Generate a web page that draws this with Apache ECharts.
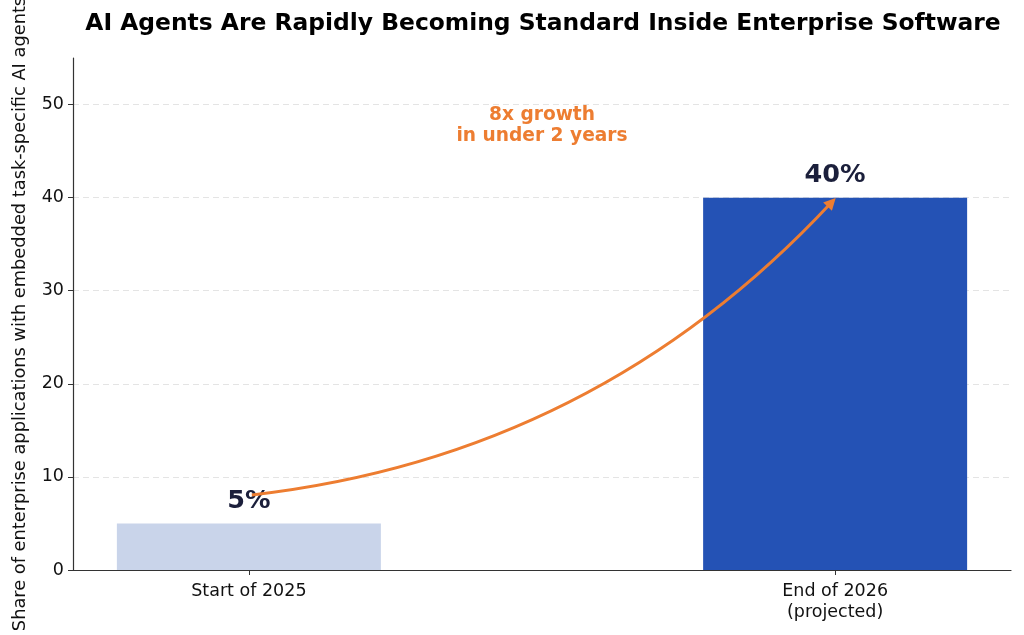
<!DOCTYPE html>
<html>
<head>
<meta charset="utf-8">
<script src="https://cdn.jsdelivr.net/npm/echarts@6/dist/echarts.min.js"></script>
<style>
html,body{margin:0;padding:0;background:#fff;}
#chart{width:1024px;height:635px;}
</style>
</head>
<body>
<div id="chart"></div>
<script>
const categories = ['Start of 2025', 'End of 2026\n(projected)'];
const categoryPositions = [0, 1];
const values = [5, 40];
const barColors = ['#C9D4EA', '#2452B5'];
const yTicks = [0, 10, 20, 30, 40, 50];
const gridValues = [10, 20, 30, 40, 50];
const arrowFrom = [0.005, 8.06];
const arrowTo = [0.994, 39.5];
const annotationText = '8x growth\nin under 2 years';
const annotationPos = [0.5, 47.7];
const titleText = 'AI Agents Are Rapidly Becoming Standard Inside Enterprise Software';
const yAxisName = 'Share of enterprise applications with embedded task-specific AI agents';

const FONT = 'DejaVu Sans';
const chart = echarts.init(document.getElementById('chart'), null, {renderer: 'canvas'});

const option = {
  backgroundColor: '#fff',
  animation: false,
  textStyle: {fontFamily: FONT},
  title: {
    text: titleText,
    left: 538, top: 7, textAlign: 'center',
    textStyle: {fontFamily: FONT, fontSize: 23.4, fontWeight: 'bold', color: '#000'}
  },
  grid: {left: 73, right: 13, top: 58, bottom: 65, containLabel: false, outerBoundsMode: 'none'},
  xAxis: {
    type: 'value', min: -0.3, max: 1.3,
    axisLine: {show: true, onZero: false, lineStyle: {color: '#333', width: 1.2}},
    axisTick: {show: true, length: 5, customValues: categoryPositions, lineStyle: {color: '#333'}},
    axisLabel: {
      customValues: categoryPositions,
      formatter: v => { const i = categoryPositions.indexOf(v); return i >= 0 ? categories[i] : ''; },
      fontFamily: FONT, fontSize: 17.5, color: '#111', margin: 11, lineHeight: 21
    },
    splitLine: {show: false}
  },
  yAxis: {
    type: 'value', min: 0, max: 55,
    name: yAxisName, nameLocation: 'middle', nameGap: 44,
    nameTextStyle: {fontFamily: FONT, fontSize: 17.8, color: '#111'},
    axisLine: {show: true, onZero: false, lineStyle: {color: '#333', width: 1.2}},
    axisTick: {show: true, length: 5, customValues: yTicks, lineStyle: {color: '#333'}},
    axisLabel: {customValues: yTicks, fontFamily: FONT, fontSize: 17.5, color: '#111', margin: 9},
    splitLine: {show: false}
  },
  series: [
    {
      type: 'bar',
      barWidth: 264,
      data: values.map((v, i) => ({value: [categoryPositions[i], v], itemStyle: {color: barColors[i]}})),
      label: {
        show: true, position: 'top', distance: 9,
        formatter: p => p.value[1] + '%',
        fontFamily: FONT, fontSize: 25.5, fontWeight: 'bold', color: '#1B1F3B'
      },
      markLine: {
        silent: true, symbol: 'none', z: 0,
        label: {show: false},
        lineStyle: {color: '#e4e4e4', type: [6, 4], width: 1},
        data: gridValues.map(v => ({yAxis: v}))
      },
      z: 2
    },
    {
      type: 'lines',
      coordinateSystem: 'cartesian2d',
      z: 10,
      symbol: ['none', 'triangle'],
      symbolSize: [0, 12],
      lineStyle: {color: '#ED7D31', width: 3, curveness: -0.185, opacity: 1},
      data: [{coords: [arrowFrom, arrowTo]}]
    },
    {
      type: 'scatter',
      symbolSize: 0,
      silent: true,
      itemStyle: {opacity: 1},
      data: [annotationPos],
      label: {
        show: true, position: 'inside',
        formatter: annotationText,
        fontFamily: FONT, fontSize: 18.6, fontWeight: 'bold', color: '#ED7D31', lineHeight: 21, align: 'center'
      }
    }
  ]
};
chart.setOption(option);
</script>
</body>
</html>
